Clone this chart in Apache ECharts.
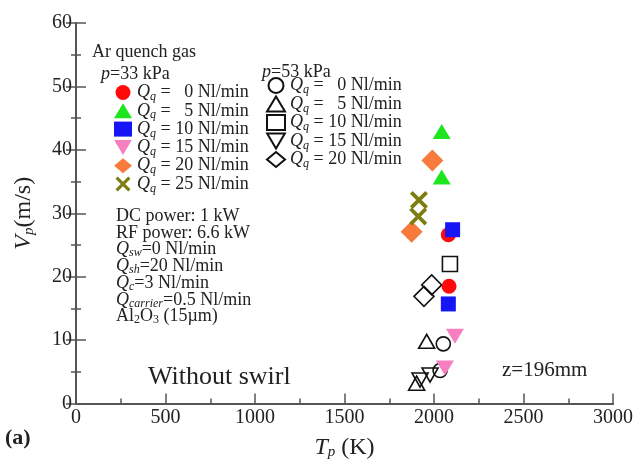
<!DOCTYPE html>
<html>
<head>
<meta charset="utf-8">
<script src="https://cdn.jsdelivr.net/npm/echarts@6/dist/echarts.min.js"></script>
<style>
  html, body { margin: 0; padding: 0; background: #fff; }
  #chart { width: 643px; height: 465px; }
</style>
</head>
<body>
<div id="chart"></div>
<script>
// [Tp (K), Vp (m/s)]
const flows33 = ['0', '5', '10', '15', '20', '25']
const flows53 = ['0', '5', '10', '15', '20']

const p33q0 = [[2080, 26.6], [2084, 18.5]]
const p33q5 = [[2043, 42.9], [2043, 35.7]]
const p33q10 = [[2104, 27.4], [2080, 15.7]]
const p33q15 = [[2117, 10.6], [2061, 5.6]]
const p33q20 = [[1991, 38.3], [1875, 27.1]]
const p33q25 = [[1916, 32.1], [1912, 29.5]]

const p53q0 = [[2052, 9.4], [2034, 5.2]]
const p53q5 = [[1959, 9.8], [1903, 3.2]]
const p53q10 = [[2089, 22.0]]
const p53q15 = [[1922, 3.7], [1978, 4.5]]
const p53q20 = [[1987, 18.7], [1944, 16.9]]

const xTicks = { min: 0, max: 3000, step: 500 }
const yTicks = { min: 0, max: 60, step: 10 }

const serif = 'Liberation Serif'
const ink = '#222'
const DOWN = 'path://M0,0 L20,0 L10,17 Z'
const CROSS = 'path://M0,3 L3,0 L10,7 L17,0 L20,3 L13,10 L20,17 L17,20 L10,13 L3,20 L0,17 L7,10 Z'

const chart = echarts.init(document.getElementById('chart'))

function filled (name, data, symbol, size, color) {
  return {
    type: 'scatter', name: name, data: data, symbol: symbol, symbolSize: size,
    itemStyle: { color: color, opacity: 1 }
  }
}
function hollow (name, data, symbol, size) {
  return {
    type: 'scatter', name: name, data: data, symbol: symbol, symbolSize: size,
    itemStyle: { color: 'rgba(0,0,0,0)', borderColor: '#111', borderWidth: 1.6, opacity: 1 }
  }
}

const series = [
  hollow('53|0', p53q0, 'circle', 14),
  hollow('53|5', p53q5, 'triangle', [16, 14]),
  hollow('53|10', p53q10, 'rect', 15),
  hollow('53|15', p53q15, DOWN, [16, 14]),
  hollow('53|20', p53q20, 'diamond', 20),
  filled('33|0', p33q0, 'circle', 15, '#ff0a0a'),
  filled('33|5', p33q5, 'triangle', [18, 15], '#1ee61e'),
  filled('33|10', p33q10, 'rect', 15, '#1515f5'),
  filled('33|15', p33q15, DOWN, [18, 15], '#f57fc0'),
  filled('33|20', p33q20, 'diamond', 22, '#f87a3c'),
  filled('33|25', p33q25, CROSS, 18, '#7d7d12')
]

const legendRich = {
  q: { fontFamily: serif, fontStyle: 'italic', fontSize: 18, color: ink, lineHeight: 16 },
  s: { fontFamily: serif, fontStyle: 'italic', fontSize: 12, color: ink, lineHeight: 16, padding: [9, 0, 0, 0] },
  t: { fontFamily: serif, fontSize: 18, color: ink, lineHeight: 16 }
}
function legendText (name) {
  const q = name.split('|')[1]
  const pad = q.length === 1 ? '   ' : ' '
  return '{q|Q}{s|q}{t| =' + pad + q + ' Nl/min}'
}

const txt = { fontFamily: serif, fontSize: 18, fill: ink }
const sub = { fontFamily: serif, fontSize: 12, fill: ink, fontStyle: 'italic', padding: [8, 0, 0, 0] }
function label (x, y, text, rich, extra) {
  return {
    type: 'text', left: x, top: y,
    style: Object.assign({ text: text, font: '18px "Liberation Serif"', fill: ink, rich: rich || {} }, extra || {})
  }
}
const baseRich = {
  t: txt,
  i: Object.assign({}, txt, { fontStyle: 'italic' }),
  s: sub,
  n: { fontFamily: serif, fontSize: 12, fill: ink, padding: [8, 0, 0, 0] }
}
const plain = v => String(v)

const option = {
  animation: false,
  backgroundColor: '#fff',
  grid: { left: 76, right: 30, top: 23, bottom: 61 },
  xAxis: [
    {
      type: 'value', min: xTicks.min, max: xTicks.max, interval: xTicks.step, position: 'bottom',
      axisLine: { lineStyle: { color: '#555', width: 2 } },
      axisTick: { inside: true, length: 10, lineStyle: { color: '#555', width: 1.5 } },
      minorTick: { show: true, splitNumber: 2, length: 5, lineStyle: { color: '#555', width: 1.5 } },
      splitLine: { show: false },
      axisLabel: { fontFamily: serif, fontSize: 20, color: ink, margin: 4, formatter: plain },
      name: '{i|T}{s|p}{t| (K)}',
      nameLocation: 'middle',
      nameGap: 32,
      nameTextStyle: {
        rich: {
          i: { fontFamily: serif, fontStyle: 'italic', fontSize: 24, color: ink, lineHeight: 24 },
          s: { fontFamily: serif, fontStyle: 'italic', fontSize: 15, color: ink, lineHeight: 24, padding: [10, 0, 0, 0] },
          t: { fontFamily: serif, fontSize: 24, color: ink, lineHeight: 24 }
        }
      }
    },
    {
      type: 'value', min: xTicks.min, max: xTicks.max, position: 'top',
      axisLine: { show: true, lineStyle: { color: '#555', width: 2 } },
      axisTick: { show: false }, axisLabel: { show: false }, splitLine: { show: false }
    }
  ],
  yAxis: [
    {
      type: 'value', min: yTicks.min, max: yTicks.max, interval: yTicks.step, position: 'left',
      axisLine: { show: true, lineStyle: { color: '#555', width: 2 } },
      axisTick: { show: true, inside: true, length: 10, lineStyle: { color: '#555', width: 1.5 } },
      minorTick: { show: true, splitNumber: 2, length: 5, lineStyle: { color: '#555', width: 1.5 } },
      splitLine: { show: false },
      axisLabel: { fontFamily: serif, fontSize: 20, color: ink, margin: 4, formatter: plain },
      name: '{i|V}{s|p}{t|(m/s)}',
      nameLocation: 'middle',
      nameRotate: 90,
      nameGap: 40,
      nameTextStyle: {
        rich: {
          i: { fontFamily: serif, fontStyle: 'italic', fontSize: 24, color: ink, lineHeight: 24 },
          s: { fontFamily: serif, fontStyle: 'italic', fontSize: 15, color: ink, lineHeight: 24, padding: [10, 0, 0, 0] },
          t: { fontFamily: serif, fontSize: 24, color: ink, lineHeight: 24 }
        }
      }
    },
    {
      type: 'value', min: yTicks.min, max: yTicks.max, interval: yTicks.step, position: 'right',
      axisLine: { show: true, lineStyle: { color: '#555', width: 2 } },
      axisTick: { show: true, inside: true, length: 10, lineStyle: { color: '#555', width: 1.5 } },
      minorTick: { show: true, splitNumber: 2, length: 5, lineStyle: { color: '#555', width: 1.5 } },
      axisLabel: { show: false }, splitLine: { show: false }
    }
  ],
  legend: [
    {
      data: flows33.map(q => '33|' + q),
      orient: 'vertical', left: 109, top: 77,
      itemWidth: 18, itemHeight: 15, itemGap: -2.7,
      selectedMode: false,
      formatter: legendText,
      textStyle: { rich: legendRich }
    },
    {
      data: flows53.map(q => '53|' + q),
      orient: 'vertical', left: 261, top: 70,
      itemWidth: 18, itemHeight: 15, itemGap: -2.5,
      selectedMode: false,
      formatter: legendText,
      textStyle: { rich: legendRich }
    }
  ],
  graphic: [
    label(92, 43, 'Ar quench gas'),
    label(101, 65, '{i|p}{t|=33 kPa}', baseRich),
    label(262, 63, '{i|p}{t|=53 kPa}', baseRich),
    label(116, 207, 'DC power: 1 kW'),
    label(116, 224, 'RF power: 6.6 kW'),
    label(116, 240, '{i|Q}{s|sw}{t|=0 Nl/min}', baseRich),
    label(116, 257, '{i|Q}{s|sh}{t|=20 Nl/min}', baseRich),
    label(116, 274, '{i|Q}{s|c}{t|=3 Nl/min}', baseRich),
    label(116, 291, '{i|Q}{s|carrier}{t|=0.5 Nl/min}', baseRich),
    label(116, 307, '{t|Al}{n|2}{t|O}{n|3}{t| (15\u00b5m)}', baseRich),
    label(148, 364, 'Without swirl', null, { font: '26px "Liberation Serif"' }),
    label(502, 360, 'z=196mm', null, { font: '21px "Liberation Serif"' }),
    label(5, 427, '(a)', null, { font: 'bold 22px "Liberation Serif"' })
  ],
  series: series
}

chart.setOption(option)
</script>
</body>
</html>
